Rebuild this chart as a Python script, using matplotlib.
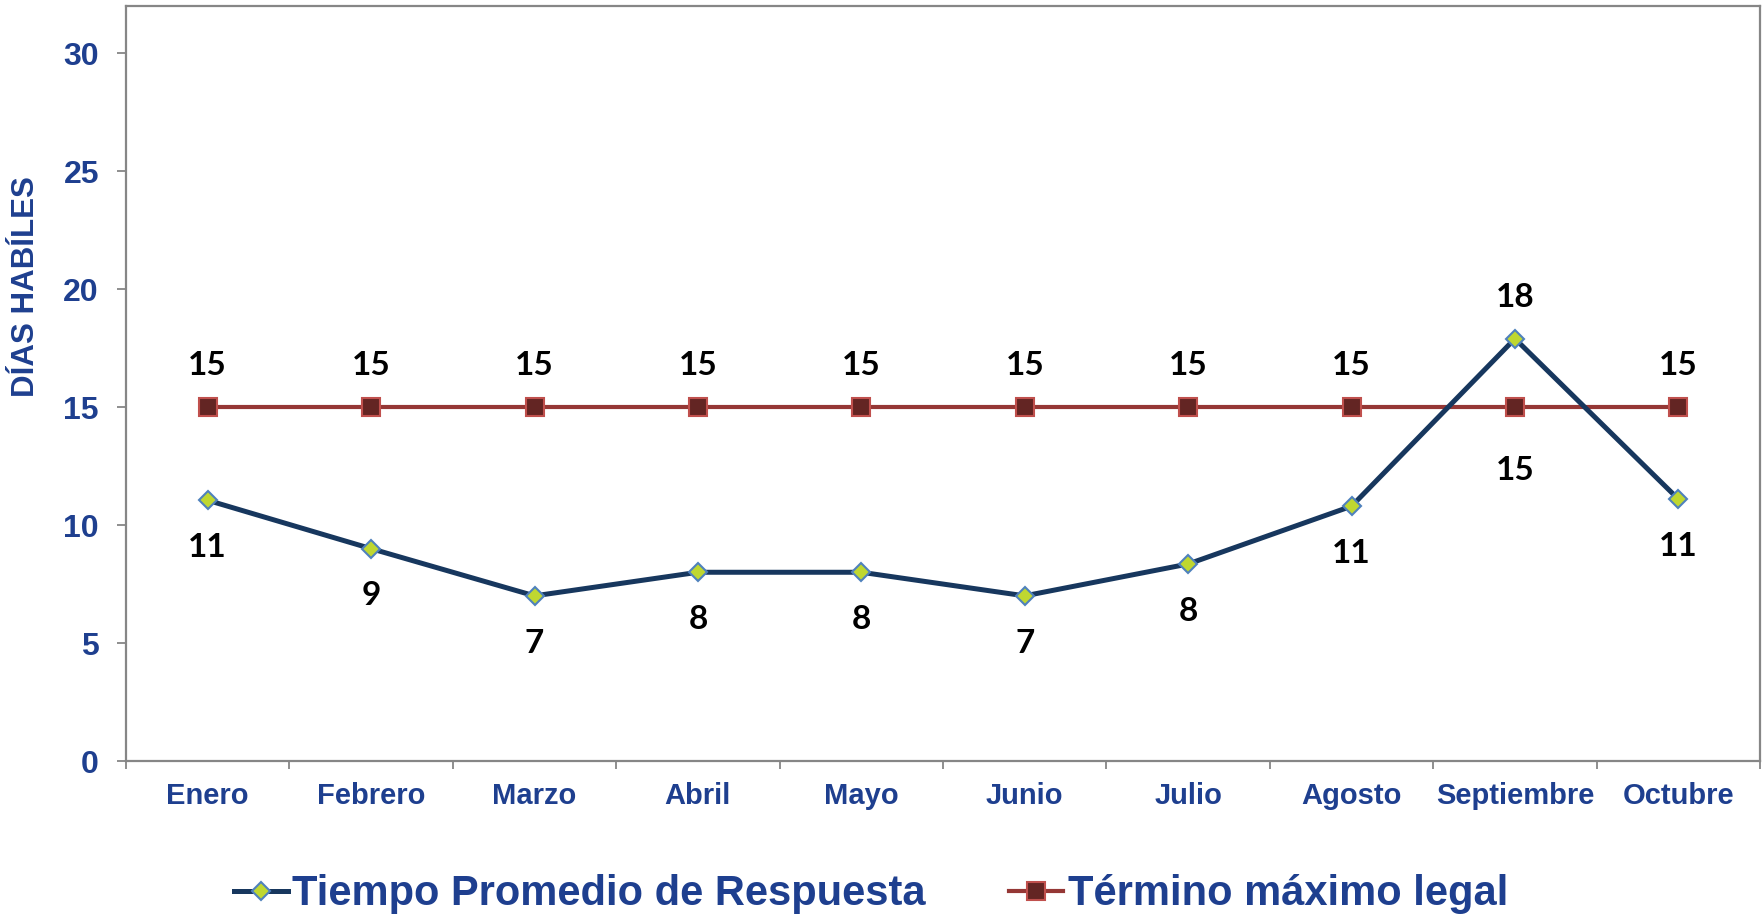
import matplotlib
matplotlib.use("Agg")
from matplotlib import pyplot as plt

# ---- data ----
meses = ["Enero", "Febrero", "Marzo", "Abril", "Mayo", "Junio",
         "Julio", "Agosto", "Septiembre", "Octubre"]
tiempo_promedio = [11.05, 9.0, 7.0, 8.0, 8.0, 7.0, 8.35, 10.8, 17.9, 11.1]
tiempo_etiquetas = ["11", "9", "7", "8", "8", "7", "8", "11", "18", "11"]
termino_legal = [15, 15, 15, 15, 15, 15, 15, 15, 15, 15]
termino_etiquetas = ["15"] * 10

AZUL = "#1E3F8F"
NAVY = "#17375E"
ROJO = "#953735"

plt.rcParams["font.family"] = ["Liberation Sans", "DejaVu Sans"]

fig = plt.figure(figsize=(17.65, 9.19), dpi=100)
ax = fig.add_axes([0.0714, 0.1719, 0.9258, 0.8216])

x = list(range(len(meses)))
ax.plot(x, tiempo_promedio, color=NAVY, lw=3.6, marker="D", ms=9.5,
        mfc="#BFD730", mec="#4F81BD", mew=1.5, zorder=3,
        label="Tiempo Promedio de Respuesta")
ax.plot(x, termino_legal, color=ROJO, lw=3.0, marker="s", ms=13.5,
        mfc="#632523", mec="#C0504D", mew=1.5, zorder=2,
        label="Término máximo legal")

lbl_kw = dict(textcoords="offset points", ha="center", va="center",
              fontsize=24, fontweight="bold", color="black",
              family=["Lato", "DejaVu Sans"])
for i in x:
    if tiempo_promedio[i] > termino_legal[i]:
        dy_t, dy_l = 30, -46
    else:
        dy_t, dy_l = -34, 30
    ax.annotate(tiempo_etiquetas[i], (i, tiempo_promedio[i]),
                xytext=(0, dy_t), **lbl_kw)
    ax.annotate(termino_etiquetas[i], (i, termino_legal[i]),
                xytext=(0, dy_l), **lbl_kw)

ax.set_xlim(-0.5, len(meses) - 0.5)
ax.set_ylim(0, 32)
ax.set_yticks([0, 5, 10, 15, 20, 25, 30])
ax.set_xticks([i - 0.5 for i in range(len(meses) + 1)])
ax.set_xticklabels([])
ax.set_xticks(x, minor=True)
ax.set_xticklabels(meses, minor=True)

for s in ax.spines.values():
    s.set_color("#868686")
    s.set_linewidth(1.6)

ax.tick_params(axis="y", which="major", length=6.5, width=1.3,
               color="#868686", pad=13, labelsize=23, labelcolor=AZUL)
ax.tick_params(axis="x", which="major", length=6, width=1.3,
               color="#868686")
ax.tick_params(axis="x", which="minor", length=0, pad=15,
               labelsize=21, labelcolor=AZUL)
for t in ax.get_yticklabels() + ax.get_xticklabels(minor=True):
    t.set_fontweight("bold")

ax.set_ylabel("DÍAS HABÍLES", fontsize=22.5, fontweight="bold", color=AZUL)
ax.yaxis.set_label_coords(-0.052, 0.628)

fig.legend(loc="center", bbox_to_anchor=(0.4935, 0.027), ncol=2,
           frameon=False, handlelength=1.3, handletextpad=0.1,
           columnspacing=2.0, prop=dict(size=30, weight="bold"),
           labelcolor=AZUL)

fig.savefig("out.png", dpi=100)
